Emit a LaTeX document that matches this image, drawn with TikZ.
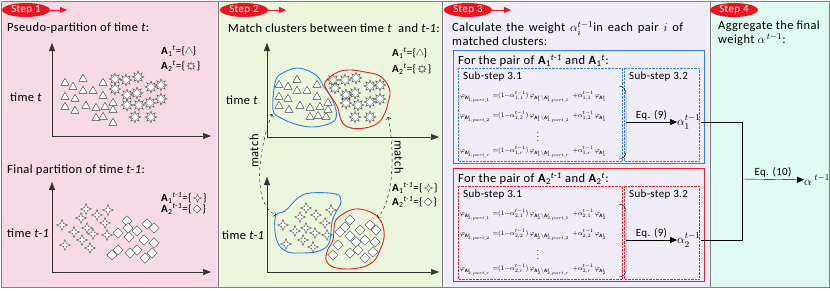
\documentclass[tikz,border=0pt]{standalone}
\usepackage{fontspec}
\setmainfont{Carlito}[LetterSpace=3]
\usepackage{amsmath}
\usetikzlibrary{shapes.geometric,arrows.meta,positioning}

\definecolor{rosa}{RGB}{246,218,229}
\definecolor{hellgruen}{RGB}{236,246,221}
\definecolor{lila}{RGB}{240,236,248}
\definecolor{mint}{RGB}{222,250,242}
\definecolor{rahmen}{RGB}{128,128,128}
\definecolor{schrittrot}{RGB}{232,22,30}
\definecolor{blau}{RGB}{45,125,235}
\definecolor{rot}{RGB}{235,30,35}

\tikzset{
  dreieck/.style={regular polygon, regular polygon sides=3, draw=black!75, fill=white, inner sep=0pt, minimum size=9.5pt, line width=0.4pt},
  zacke/.style={star, star points=8, star point ratio=2.1, draw=black!75, fill=white, inner sep=0pt, minimum size=12pt, line width=0.4pt},
  vierzack/.style={star, star points=4, star point ratio=2.6, draw=black!75, fill=white, inner sep=0pt, minimum size=11pt, line width=0.4pt},
  raute/.style={diamond, draw=black!75, fill=white, inner sep=0pt, minimum size=10.5pt, line width=0.4pt},
  schritt/.style={ellipse, fill=schrittrot, text=white, inner sep=0pt, minimum width=48pt, minimum height=14pt, font=\fontsize{11}{12}\selectfont},
  pfeil/.style={-{Triangle[length=7pt,width=6pt]}},
  achse/.style={draw=black!80, line width=0.5pt, -{Triangle[length=8pt,width=6pt]}},
  txt/.style={anchor=west, inner sep=0pt, font=\fontsize{12.5}{14}\selectfont},
  klein/.style={anchor=west, inner sep=0pt, font=\fontsize{11}{12}\selectfont},
  formel/.style={anchor=west, inner sep=0pt, font=\fontsize{8.5}{9}\selectfont},
}

\begin{document}
\begin{tikzpicture}[x=1pt, y=-1pt]
  \useasboundingbox (0,0) rectangle (830,290);

  % Felder
  \fill[white] (0,0) rectangle (830,290);
  \filldraw[fill=rosa, draw=rahmen] (1,1) rectangle (218.5,287);
  \filldraw[fill=hellgruen, draw=rahmen] (218.5,1) rectangle (442.5,287);
  \filldraw[fill=lila, draw=rahmen] (442.5,1) rectangle (710.5,287);
  \filldraw[fill=mint, draw=rahmen] (710.5,1) rectangle (829,287);

  % Schritte
  \foreach \k/\x in {1/26, 2/244, 3/468, 4/734}
    \node[schritt] (s\k) at (\x,10) {Step \k};
  \foreach \k/\x in {1/67, 2/286, 3/511} {
    \coordinate (e\k) at (\x,10);
    \draw[schrittrot, pfeil] (s\k) -- (e\k);
  }

  % Ueberschriften
  \node[txt] (t1) at (7,28) {Pseudo-partition of time \textit{t}:};
  \node[txt] (t1b) at (7,170) {Final partition of time \textit{t-1}:};
  \node[txt] (t2) at (228,28) {Match clusters between time \textit{t}\ \ and \textit{t-1}:};
  \node[txt, anchor=north west, text width=231pt, align=justify] (t3) at (452,21)
    {Calculate the weight $\alpha_i^{t-1}$in each pair $i$ of\linebreak matched clusters:};
  \node[txt, anchor=north west, align=left] (t4) at (718,21) {Aggregate the final\\weight $\alpha^{\,t-1}$:};

  % Achsen
  \draw[achse] (52,136) -- (52,43);
  \draw[achse] (52,136) -- (211,136);
  \draw[achse] (52,272) -- (52,182);
  \draw[achse] (52,272) -- (211,272);
  \draw[achse] (267,137) -- (267,43);
  \draw[achse] (267,137) -- (439,137);
  \draw[achse] (267,272) -- (267,177);
  \draw[achse] (267,272) -- (439,272);
  \node[txt] (zt1) at (10,97) {time \textit{t}};
  \node[txt] (zt2) at (7,233) {time \textit{t-1}};
  \node[txt] (zt3) at (226,100) {time \textit{t}};
  \node[txt] (zt4) at (222,235) {time \textit{t-1}};

  % Legende
  \foreach \nm/\x/\y/\s/\h/\form in {a/161/51/1/t/dreieck, b/161/66/2/t/zacke,
      c/161/198/1/t-1/vierzack, d/161/209/2/t-1/raute, e/392/53/1/t/dreieck,
      f/392/69/2/t/zacke, g/392/188/1/t-1/vierzack, h/392/202/2/t-1/raute} {
    \node[klein] (lg\nm) at (\x,\y) {\textbf{A}\textsubscript{\s}\textsuperscript{\textit{\h}}=\{};
    \node[\form, minimum size=8pt, right=1pt of lg\nm] (lg\nm-s) {};
    \node[klein, right=1pt of lg\nm-s] (lg\nm-e) {\}};
  }

  % Cluster zum Zeitpunkt t
  \foreach \px/\py [count=\k] in {65/83, 73/87, 83/79, 83/91, 93/91, 103/83, 65/97, 75/99, 103/96,
      65/107, 75/111, 86/106, 96/108, 105/107, 113/103, 113/110, 96/118, 103/117, 113/123}
    \node[dreieck] (pa\k) at (\px,\py) {};
  \foreach \px/\py [count=\k] in {115/79, 126/80, 138/77, 115/89, 151/87, 161/85, 127/95, 137/93,
      127/105, 139/105, 150/103, 161/99, 135/117, 151/117}
    \node[zacke] (pb\k) at (\px,\py) {};
  \foreach \px/\py [count=\k] in {279/85, 288/87, 297/80, 279/97, 288/99, 297/91, 307/91, 317/85, 317/97,
      279/106, 289/110, 300/106, 310/108, 320/107, 328/103, 328/110, 310/117, 318/116, 326/117}
    \node[dreieck] (qa\k) at (\px,\py) {};
  \foreach \px/\py [count=\k] in {333/80, 345/80, 356/78, 335/88, 370/86, 380/85, 346/95, 355/93,
      346/103, 358/105, 370/102, 380/99, 355/117, 370/117}
    \node[zacke] (qb\k) at (\px,\py) {};

  % Cluster zum Zeitpunkt t-1
  \foreach \px/\py [count=\k] in {62/225, 74/232, 81/218, 86/209, 97/215, 108/210, 105/223, 87/228,
      93/234, 82/240, 107/235, 65/245, 90/248}
    \node[vierzack] (pc\k) at (\px,\py) {};
  \foreach \px/\py [count=\k] in {118/233, 127/221, 128/228, 137/231, 147/224, 154/228, 129/237, 144/240,
      154/243, 118/250, 112/255, 130/253, 137/250, 145/258, 152/253}
    \node[raute] (pd\k) at (\px,\py) {};
  \foreach \px/\py [count=\k] in {306/208, 300/217, 316/215, 331/210, 325/223, 283/225, 295/231, 306/228,
      315/233, 327/235, 303/240, 286/244, 313/247}
    \node[vierzack] (qc\k) at (\px,\py) {};
  \foreach \px/\py [count=\k] in {350/220, 345/227, 340/232, 350/236, 360/230, 370/225, 376/230, 365/240,
      375/242, 356/242, 338/245, 333/255, 350/253, 358/250, 373/252, 365/258}
    \node[raute] (qd\k) at (\px,\py) {};

  % Umrandungen
  \draw[blau, line width=0.9pt] plot[smooth cycle, tension=0.6] coordinates {(273,110) (275,83) (281,74)
    (298,68) (316,75) (324,87) (331,97) (336,110) (335,120) (325,125) (311,127) (295,124) (281,118)};
  \draw[rot, line width=0.9pt] plot[smooth cycle, tension=0.6] coordinates {(325,82) (338,72) (351,70)
    (365,72) (378,75) (386,82) (390,92) (388,103) (385,113) (378,123) (365,128) (351,128) (342,122)
    (337,106) (328,92)};
  \draw[blau, line width=0.9pt] plot[smooth cycle, tension=0.6] coordinates {(276,215) (285,211) (298,198)
    (310,193) (336,194) (341,202) (336,212) (332,222) (330,240) (325,248) (315,252) (301,253) (288,252)
    (279,245) (275,232)};
  \draw[rot, line width=0.9pt] plot[smooth cycle, tension=0.6] coordinates {(335,222) (343,214) (355,209)
    (368,211) (378,217) (383,226) (384,238) (380,250) (374,261) (363,267) (348,269) (333,267) (326,260)
    (328,249) (333,240)};

  % Zuordnung
  \coordinate (m1a) at (272,114);
  \coordinate (m1b) at (276,215);
  \coordinate (m2a) at (388,117);
  \coordinate (m2b) at (378,218);
  \draw[dashed, <->] (m1a) .. controls (258,150) and (252,205) .. (m1b);
  \draw[dashed, <->] (m2a) .. controls (395,150) and (394,198) .. (m2b);
  \node[txt, anchor=center, rotate=90] (mt1) at (254,151) {match};
  \node[txt, anchor=center, rotate=-90] (mt2) at (399,157) {match};

  % Schritt 3: Paare
  \foreach \p/\yo/\col in {1/0/blau, 2/118/rot} {
    \draw[\col, line width=1pt] (453,50+\yo) rectangle (704,163+\yo);
    \node[txt] (paar\p) at (458,61+\yo) {For the pair of \textbf{A}\textsubscript{\p}\textsuperscript{\textit{t-1}} and \textbf{A}\textsubscript{\p}\textsuperscript{\textit{t}}:};
    \draw[\col, densely dotted] (458,68+\yo) rectangle (622,161+\yo);
    \draw[\col, densely dotted] (624,68+\yo) rectangle (699,161+\yo);
    \node[klein] (sa\p) at (463,77+\yo) {Sub-step 3.1};
    \node[klein] (sb\p) at (629,77+\yo) {Sub-step 3.2};
    \foreach \r/\y in {1/97, 2/117, r/152}
      \node[formel] (gl\p\r) at (460,\y+\yo) {\scalebox{0.85}{%
        \makebox[38pt][l]{$\varphi_{\mathbf{A}^{t}_{\p,part\_\r}}$}%
        \makebox[94pt][l]{${=}(1{-}\alpha^{t-1}_{\p,\r})\,\varphi_{\mathbf{A}^{t}_{\p}\setminus\mathbf{A}^{t}_{\p,part\_\r}}$}%
        $+\alpha^{t-1}_{\p,\r}\,\varphi_{\mathbf{A}^{t}_{\p}}$}};
    \node[inner sep=0pt, font=\fontsize{8}{9}\selectfont] (pk\p) at (538,134+\yo) {$\vdots$};
    \draw (619,86+\yo) to[out=0, in=90] (626,94+\yo) -- (626,152+\yo) to[out=-90, in=0] (619,159+\yo);
    \coordinate (kl\p) at (626,122+\yo);
    \node[txt] (al\p) at (677,122+\yo) {$\alpha_{\p}^{t-1}$};
    \draw[pfeil] (kl\p) -- node[klein, anchor=south, yshift=2pt] (eq\p) {Eq. (9)} (al\p);
  }

  % Schritt 4
  \coordinate (kn) at (742,179);
  \node[txt] (ges) at (804,180) {$\alpha^{\;t-1}$};
  \draw (al1.east) -| (kn);
  \draw (al2.east) -| (kn);
  \draw[pfeil] (kn) -- node[klein, anchor=south, yshift=2pt] (eq10) {Eq. (10)} (ges);

\end{tikzpicture}
\end{document}
